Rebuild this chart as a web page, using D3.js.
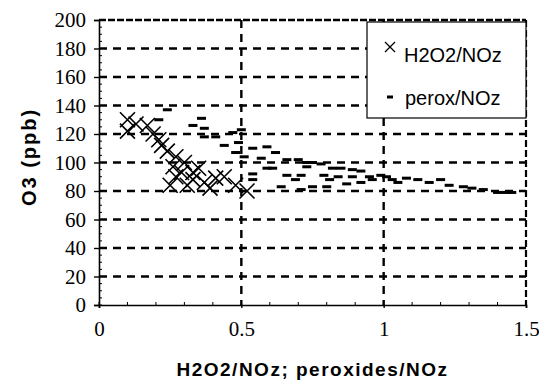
<!DOCTYPE html>
<html><head><meta charset="utf-8">
<script src="https://cdn.jsdelivr.net/npm/d3@7"></script>
<style>body{margin:0;background:#fff}svg{display:block}</style>
</head><body>
<svg id="c" width="539" height="380"></svg>
<script>
const xTicks = [0, 0.5, 1, 1.5];
const yTicks = [0, 20, 40, 60, 80, 100, 120, 140, 160, 180, 200];
const seriesNames = ["H2O2/NOz", "perox/NOz"];
const h2o2X = [0.10,0.10,0.13,0.17,0.19,0.22,0.24,0.27,0.26,0.30,0.27,0.25,0.33,0.35,0.31,0.33,0.37,0.41,0.44,0.48,0.52,0.21,0.29,0.39];
const h2o2Y = [130,122,127,126,120,112,108,104,97,100,90,84,93,96,84,88,86,89,90,84,80,116,93,82];
const peroxX = [0.21,0.24,0.33,0.36,0.37,0.37,0.41,0.44,0.47,0.48,0.49,0.50,0.51,0.54,0.59,0.62,0.57,0.66,0.70,0.73,0.75,0.78,0.59,0.61,0.73,0.82,0.85,0.89,0.92,0.54,0.66,0.71,0.79,0.84,0.89,0.95,0.99,0.54,0.69,0.81,0.92,0.96,1.01,1.03,1.08,1.12,1.05,1.20,1.23,1.28,1.31,1.35,1.40,1.43,1.45,0.64,0.71,0.75,0.80,1.16,0.87];
const peroxY = [130,137,126,131,124,118,118,112,121,107,114,123,104,110,111,107,103,102,102,100,100,99,96,96,97,96,96,95,94,92,91,91,91,90,90,90,91,88,88,88,86,88,90,88,89,88,86,88,84,83,82,81,79,79,79,83,81,83,83,86,85];

const svg = d3.select("#c");
const x = d3.scaleLinear().domain([0, 1.5]).range([99, 526]);
const y = d3.scaleLinear().domain([0, 200]).range([305, 20]);

// gridlines
const g = svg.append("g");
g.selectAll(".hg").data(yTicks.filter(v => v > 0 && v < 200)).join("line")
  .attr("x1", x(0)).attr("x2", x(1.5)).attr("y1", d => y(d)).attr("y2", d => y(d))
  .attr("stroke", "#000").attr("stroke-width", 2.4).attr("stroke-dasharray", "8,6");
g.selectAll(".vg").data(xTicks.filter(v => v > 0 && v < 1.5)).join("line")
  .attr("x1", d => x(d)).attr("x2", d => x(d)).attr("y1", y(200)).attr("y2", y(0))
  .attr("stroke", "#000").attr("stroke-width", 2.4).attr("stroke-dasharray", "8,6");
// top & right borders (dashed)
g.append("line").attr("x1", x(0)).attr("x2", x(1.5)).attr("y1", y(200)).attr("y2", y(200))
  .attr("stroke", "#000").attr("stroke-width", 2.6).attr("stroke-dasharray", "7,2");
g.append("line").attr("x1", x(1.5)).attr("x2", x(1.5)).attr("y1", y(200)).attr("y2", y(0))
  .attr("stroke", "#000").attr("stroke-width", 2.2).attr("stroke-dasharray", "7,3");

// minor ticks
g.selectAll(".my").data(d3.range(0, 201, 5)).join("line")
  .attr("x1", x(0)).attr("x2", x(0) + 3).attr("y1", d => y(d)).attr("y2", d => y(d))
  .attr("stroke", "#000").attr("stroke-width", 1);
g.selectAll(".mx").data(d3.range(0, 1.501, 0.1)).join("line")
  .attr("x1", d => x(d)).attr("x2", d => x(d)).attr("y1", y(0)).attr("y2", y(0) - 3)
  .attr("stroke", "#000").attr("stroke-width", 1);

// axes
const ya = svg.append("g").attr("transform", `translate(${x(0)},0)`)
  .call(d3.axisLeft(y).tickValues(yTicks).tickSize(5).tickPadding(8).tickFormat(d3.format("d")));
ya.select(".domain").attr("stroke-width", 1.6);
ya.selectAll(".tick line").attr("stroke-width", 1.4);
ya.selectAll("text").attr("font-family", "Liberation Serif, Times New Roman, serif").attr("font-size", 21).attr("fill", "#000");

const xa = svg.append("g").attr("transform", `translate(0,${y(0)})`)
  .call(d3.axisBottom(x).tickValues(xTicks).tickSize(3).tickPadding(13).tickFormat(d => d3.format("")(d)));
xa.select(".domain").attr("stroke-width", 1.6);
xa.selectAll(".tick line").attr("stroke-width", 1.4);
xa.selectAll("text").attr("font-family", "Liberation Serif, Times New Roman, serif").attr("font-size", 21).attr("fill", "#000");

// data: H2O2 X markers
const h2o2 = h2o2X.map((v, i) => ({x: v, y: h2o2Y[i]}));
const perox = peroxX.map((v, i) => ({x: v, y: peroxY[i]}));
const s = 7.5;
svg.append("g").selectAll("path").data(h2o2).join("path")
  .attr("d", d => `M${x(d.x)-s},${y(d.y)-s}L${x(d.x)+s},${y(d.y)+s}M${x(d.x)-s},${y(d.y)+s}L${x(d.x)+s},${y(d.y)-s}`)
  .attr("stroke", "#000").attr("stroke-width", 1.6).attr("fill", "none");
svg.append("g").selectAll("rect").data(perox).join("rect")
  .attr("x", d => x(d.x) - 4.5).attr("y", d => y(d.y) - 1.5).attr("width", 9).attr("height", 3).attr("fill", "#000");

// legend
const lg = svg.append("g");
lg.append("rect").attr("x", 367).attr("y", 22).attr("width", 159).attr("height", 96)
  .attr("fill", "#fff").attr("stroke", "#000").attr("stroke-width", 1.2);
const lx = 390, ly1 = 47, ly2 = 97;
lg.append("path").attr("d", `M${lx-5},${ly1-5}L${lx+5},${ly1+5}M${lx-5},${ly1+5}L${lx+5},${ly1-5}`)
  .attr("stroke", "#000").attr("stroke-width", 1.3);
lg.append("rect").attr("x", lx - 3).attr("y", ly2 - 1.5).attr("width", 6).attr("height", 3).attr("fill", "#000");
lg.append("text").attr("x", 404).attr("y", 62).text(seriesNames[0])
  .attr("font-family", "Liberation Sans, Arial, sans-serif").attr("font-size", 20);
lg.append("text").attr("x", 405).attr("y", 105).text(seriesNames[1])
  .attr("font-family", "Liberation Sans, Arial, sans-serif").attr("font-size", 20);

// axis titles
svg.append("text").attr("x", (x(0) + x(1.5)) / 2).attr("y", 376).attr("text-anchor", "middle")
  .attr("font-family", "Liberation Sans, Arial, sans-serif").attr("font-weight", "bold")
  .attr("font-size", 19).attr("letter-spacing", 1.5).text("H2O2/NOz;  peroxides/NOz");
svg.append("text").attr("transform", "translate(36,157) rotate(-90)").attr("text-anchor", "middle")
  .attr("font-family", "Liberation Sans, Arial, sans-serif").attr("font-weight", "bold")
  .attr("font-size", 20).attr("letter-spacing", 2).text("O3  (ppb)");
</script>
</body></html>
